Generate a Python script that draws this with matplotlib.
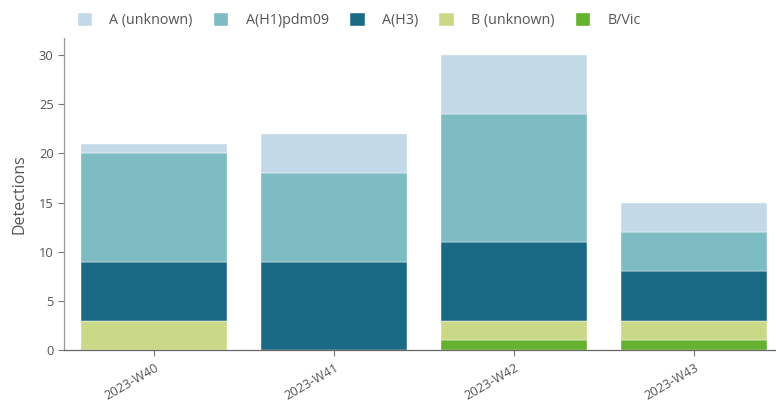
import matplotlib.pyplot as plt
import numpy as np

weeks = ['2023-W40', '2023-W41', '2023-W42', '2023-W43']
series = ['A (unknown)', 'A(H1)pdm09', 'A(H3)', 'B (unknown)', 'B/Vic']
b_vic = [0, 0, 1, 1]
b_unknown = [3, 0, 2, 2]
a_h3 = [6, 9, 8, 5]
a_h1 = [11, 9, 13, 4]
a_unknown = [1, 4, 6, 3]

colors = {
    'A (unknown)': '#c3d9e8',
    'A(H1)pdm09': '#7dbcc2',
    'A(H3)': '#1b6a85',
    'B (unknown)': '#cad987',
    'B/Vic': '#64b22e',
}
text_col = '#555555'

plt.rcParams['font.family'] = ['Open Sans', 'DejaVu Sans']

fig = plt.figure(figsize=(7.76, 4.12), dpi=100)
W, H = 776, 412
# axes box in pixels: left 64, right 784 (clipped), top 38, bottom 350
ax = fig.add_axes([64 / W, 1 - 350 / H, 720 / W, (350 - 38) / H])

x = np.arange(len(weeks))
bottom = np.zeros(len(weeks))
stack = [('B/Vic', b_vic), ('B (unknown)', b_unknown), ('A(H3)', a_h3),
         ('A(H1)pdm09', a_h1), ('A (unknown)', a_unknown)]
handles = {}
for name, vals in stack:
    vals = np.array(vals, dtype=float)
    h = ax.bar(x, vals, 0.81, bottom=bottom, color=colors[name],
               edgecolor='white', linewidth=0.3, label=name)
    handles[name] = h
    bottom += vals

ax.set_xlim(-0.5, 3.5)
ax.set_ylim(0, (350 - 38) / 9.83)
ax.set_yticks([0, 5, 10, 15, 20, 25, 30])
ax.set_xticks(x)
ax.set_xticklabels(weeks, rotation=30, ha='right', rotation_mode='anchor')

for s in ['top', 'right']:
    ax.spines[s].set_visible(False)
ax.spines['left'].set_color('#999999')
ax.spines['bottom'].set_color('#666666')
ax.spines['left'].set_linewidth(0.9)
ax.spines['bottom'].set_linewidth(0.9)
ax.tick_params(axis='both', colors='#777777', labelcolor=text_col, labelsize=9.3, length=4, width=0.8)
ax.tick_params(axis='x', pad=4)
ax.set_ylabel('Detections', color=text_col, fontsize=11.5, labelpad=8)

leg = fig.legend([handles[s] for s in series], series, loc='upper left',
                 bbox_to_anchor=(65 / W, 1.0), ncol=5, frameon=False,
                 fontsize=10.3, labelcolor=text_col, handlelength=1.0, handleheight=1.0,
                 columnspacing=1.5, handletextpad=1.2)

fig.savefig('out.png', dpi=100)
